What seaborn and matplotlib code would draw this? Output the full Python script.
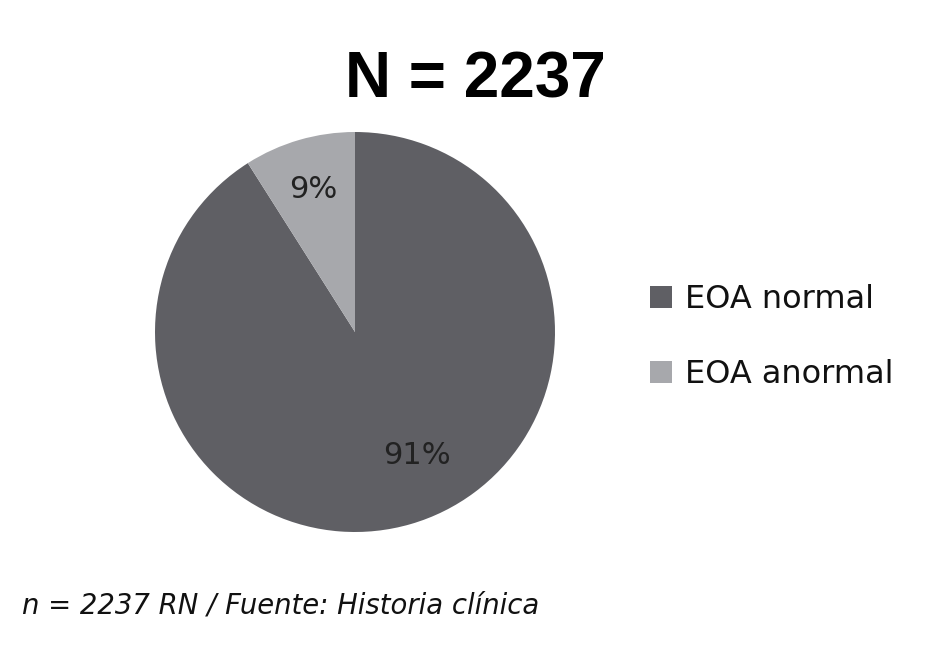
import matplotlib
matplotlib.use("Agg")
import matplotlib.pyplot as plt
import seaborn as sns

categories = ["EOA normal", "EOA anormal"]
percentages = [91, 9]
colors = ["#5f5f64", "#a7a8ac"]

sns.set_theme(style="white")
plt.rcParams["font.family"] = ["DejaVu Sans"]

fig = plt.figure(figsize=(9.41, 6.5), dpi=100)
ax = fig.add_axes([155 / 941, 118 / 650, 400 / 941, 400 / 650])

wedges, texts, autotexts = ax.pie(
    percentages,
    colors=colors,
    startangle=90,
    counterclock=False,
    autopct="%d%%",
    pctdistance=0.6,
    wedgeprops={"linewidth": 0},
    textprops={"fontsize": 22, "color": "#222222"},
)
ax.set_xlim(-1, 1)
ax.set_ylim(-1, 1)
ax.set_aspect("equal")

# tweak label positions to match the reference
autotexts[0].set_position((0.31, -0.62))
autotexts[1].set_position((-0.21, 0.71))

fig.text(475 / 941, 1 - 80 / 650, "N = 2237", ha="center", va="center",
         fontsize=46, fontweight="bold", color="black",
         family=["Liberation Sans", "DejaVu Sans"])

leg = fig.legend(
    wedges, categories,
    loc="center left", bbox_to_anchor=(650 / 941, 1 - 337 / 650),
    frameon=False, fontsize=23, handlelength=0.7, handleheight=0.7,
    handletextpad=0.4, labelspacing=1.38, borderpad=0, borderaxespad=0,
)
for t in leg.get_texts():
    t.set_color("#111111")

fig.text(22 / 941, 1 - 605 / 650, "n = 2237 RN / Fuente: Historia clínica",
         ha="left", va="center", fontsize=19.8, style="italic", color="#111111")

fig.savefig("out.png", dpi=100, facecolor="white")
